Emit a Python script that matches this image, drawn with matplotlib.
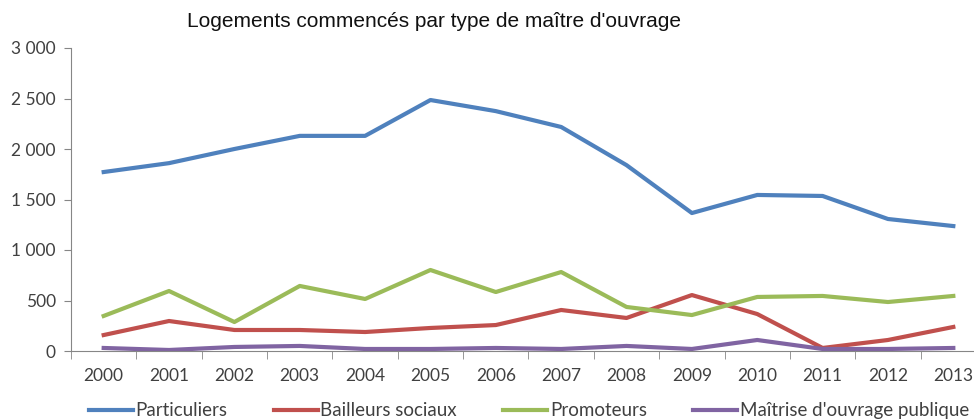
import matplotlib.pyplot as plt
from matplotlib.ticker import FuncFormatter, FixedLocator

years = [2000, 2001, 2002, 2003, 2004, 2005, 2006, 2007, 2008, 2009, 2010, 2011, 2012, 2013]
particuliers = [1772, 1860, 2000, 2130, 2130, 2485, 2375, 2218, 1840, 1366, 1545, 1535, 1307, 1237]
bailleurs = [158, 297, 208, 208, 188, 228, 257, 406, 327, 554, 366, 30, 109, 238]
promoteurs = [347, 594, 287, 644, 515, 802, 584, 782, 436, 356, 535, 545, 485, 545]
publique = [30, 10, 40, 50, 20, 20, 30, 20, 50, 20, 109, 20, 20, 30]

series = [
    ("Particuliers", particuliers, "#4F81BD"),
    ("Bailleurs sociaux", bailleurs, "#C0504D"),
    ("Promoteurs", promoteurs, "#9BBB59"),
    ("Maîtrise d'ouvrage publique", publique, "#8064A2"),
]

plt.rcParams['font.family'] = ['Lato', 'DejaVu Sans']

fig = plt.figure(figsize=(9.74, 4.2), dpi=100)
ax = fig.add_axes([71 / 974, 69 / 420, 915 / 974, 303 / 420])

x = list(range(len(years)))
for name, vals, color in series:
    ax.plot(x, vals, color=color, lw=3.0, label=name, solid_joinstyle="round")

ax.set_xlim(-0.5, len(years) - 0.5)
ax.set_ylim(0, 3000)
ax.set_yticks(range(0, 3001, 500))
ax.yaxis.set_major_formatter(FuncFormatter(lambda v, p: f"{int(v):,}".replace(",", " ")))
ax.set_xticks(x)
ax.set_xticklabels([str(y) for y in years])
ax.xaxis.set_minor_locator(FixedLocator([i - 0.5 for i in range(len(years) + 1)]))
ax.tick_params(axis="x", which="major", length=0, pad=12, labelsize=12.5, labelcolor="#404040")
ax.tick_params(axis="x", which="minor", length=6, color="#868686")
ax.tick_params(axis="y", length=5, color="#868686", labelsize=12.5, labelcolor="#404040", pad=6)

for s in ["top", "right"]:
    ax.spines[s].set_visible(False)
for s in ["left", "bottom"]:
    ax.spines[s].set_color("#868686")

fig.text(0.446, 0.948, "Logements commencés par type de maître d'ouvrage",
         ha="center", va="center", fontsize=15, family="Liberation Sans", color="#111111")

fig.legend(loc="center", bbox_to_anchor=(0.543, 0.022), ncol=4, frameon=False,
           fontsize=13.5, handlelength=2.35, handletextpad=0.15, columnspacing=2.45,
           labelcolor="#404040")

fig.savefig("out.png", dpi=100)
